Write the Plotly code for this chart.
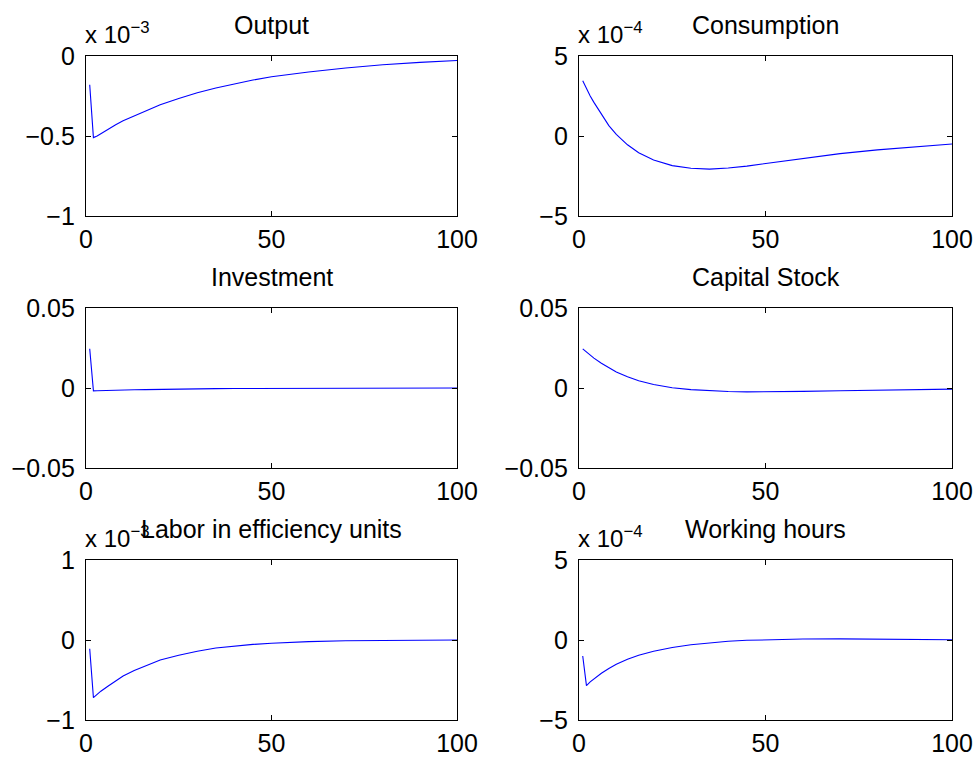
import plotly.graph_objects as go

W, H = 979, 758

periods = [1, 2, 3, 4, 6, 8, 10, 13, 16, 20, 25, 30, 35, 40, 45, 50, 55, 60, 70, 80, 90, 100]

# Values in the units shown on each axis (see exponent labels)
output_e3 = [-0.18, -0.51, -0.50, -0.485, -0.46, -0.43, -0.405, -0.375, -0.345, -0.305, -0.265,
             -0.23, -0.20, -0.175, -0.15, -0.13, -0.115, -0.10, -0.075, -0.055, -0.04, -0.028]
consumption_e4 = [3.45, 2.95, 2.5, 2.1, 1.35, 0.65, 0.1, -0.55, -1.05, -1.5, -1.85,
                  -2.02, -2.07, -2.0, -1.88, -1.72, -1.55, -1.38, -1.1, -0.87, -0.68, -0.5]
investment = [0.0245, -0.0018, -0.0017, -0.0016, -0.0015, -0.0014, -0.0012, -0.0011, -0.0010,
              -0.0008, -0.0007, -0.0005, -0.0004, -0.0003, -0.00025, -0.0002, -0.00015, -0.0001,
              -0.00008, -0.00005, -0.00003, 0.0]
capital = [0.0245, 0.0225, 0.0205, 0.0187, 0.0155, 0.0125, 0.0100, 0.0070, 0.0045, 0.0022, 0.0002,
           -0.0010, -0.0018, -0.0022, -0.0024, -0.0024, -0.0023, -0.0021, -0.0017, -0.0013, -0.0010, -0.0007]
labor_e3 = [-0.11, -0.72, -0.68, -0.64, -0.575, -0.51, -0.45, -0.38, -0.32, -0.25, -0.19,
            -0.14, -0.10, -0.075, -0.055, -0.04, -0.028, -0.02, -0.01, -0.004, -0.001, 0.0]
hours_e4 = [-1.0, -2.85, -2.62, -2.42, -2.08, -1.78, -1.52, -1.2, -0.95, -0.7, -0.47,
            -0.3, -0.17, -0.08, -0.02, 0.02, 0.04, 0.06, 0.07, 0.06, 0.04, 0.02]

titles = ["Output", "Consumption", "Investment", "Capital Stock",
          "Labor in efficiency units", "Working hours"]
series = [output_e3, consumption_e4, investment, capital, labor_e3, hours_e4]
exponents = ["−3", "−4", None, None, "−3", "−4"]
y_ticks = [[-1, -0.5, 0], [-5, 0, 5], [-0.05, 0, 0.05], [-0.05, 0, 0.05], [-1, 0, 1], [-5, 0, 5]]
x_ticks = [0, 50, 100]

# pixel boxes (left, right) and (top, bottom)
cols_px = [(86, 457), (579, 952)]
rows_px = [(56, 216), (308, 468), (560, 720)]

FONT = "Liberation Sans, Arial, Helvetica, sans-serif"

fig = go.Figure()
annotations = []
for i, (title, ys) in enumerate(zip(titles, series)):
    r, c = divmod(i, 2)
    l, rr = cols_px[c]
    t, b = rows_px[r]
    xa = "xaxis" if i == 0 else f"xaxis{i+1}"
    ya = "yaxis" if i == 0 else f"yaxis{i+1}"
    xref = "x" if i == 0 else f"x{i+1}"
    yref = "y" if i == 0 else f"y{i+1}"
    fig.add_trace(go.Scatter(x=periods, y=ys, mode="lines",
                             line=dict(color="#0000ff", width=1.1),
                             xaxis=xref, yaxis=yref, showlegend=False,
                             hoverinfo="skip"))
    common = dict(showgrid=False, zeroline=False, showline=True, linecolor="black",
                  linewidth=1.3, mirror="ticks", ticks="inside", ticklen=5,
                  tickcolor="black", tickwidth=1, automargin=False,
                  tickfont=dict(family=FONT, size=25, color="black"))
    yt = y_ticks[i]
    fig.update_layout({
        xa: dict(domain=[l / W, rr / W], range=[0, 100], tickvals=x_ticks,
                 anchor=yref, ticklabelstandoff=1, **common),
        ya: dict(domain=[1 - b / H, 1 - t / H], range=[yt[0], yt[-1]], tickvals=yt,
                 anchor=xref, ticklabelstandoff=5, **common),
    })
    annotations.append(dict(text=title, x=(l + rr) / 2 / W, y=1 - (t - 31) / H,
                            xref="paper", yref="paper", xanchor="center", yanchor="middle",
                            showarrow=False,
                            font=dict(family=FONT, size=25, color="black")))
    if exponents[i]:
        annotations.append(dict(text=f"x 10<sup>{exponents[i]}</sup>", x=(l - 3) / W,
                                y=1 - (t - 6) / H, xref="paper", yref="paper",
                                xanchor="left", yanchor="bottom", showarrow=False,
                                font=dict(family=FONT, size=24, color="black")))

fig.update_layout(template="none", width=W, height=H,
                  margin=dict(l=0, r=0, t=0, b=0, pad=0, autoexpand=False),
                  paper_bgcolor="white", plot_bgcolor="white",
                  annotations=annotations, showlegend=False)

fig.write_html("out.html", config={"displayModeBar": False},
               post_script="document.body.style.margin='0';document.body.style.padding='0';"
                           "document.documentElement.style.overflow='hidden';"
                           "document.body.style.overflow='hidden';")
